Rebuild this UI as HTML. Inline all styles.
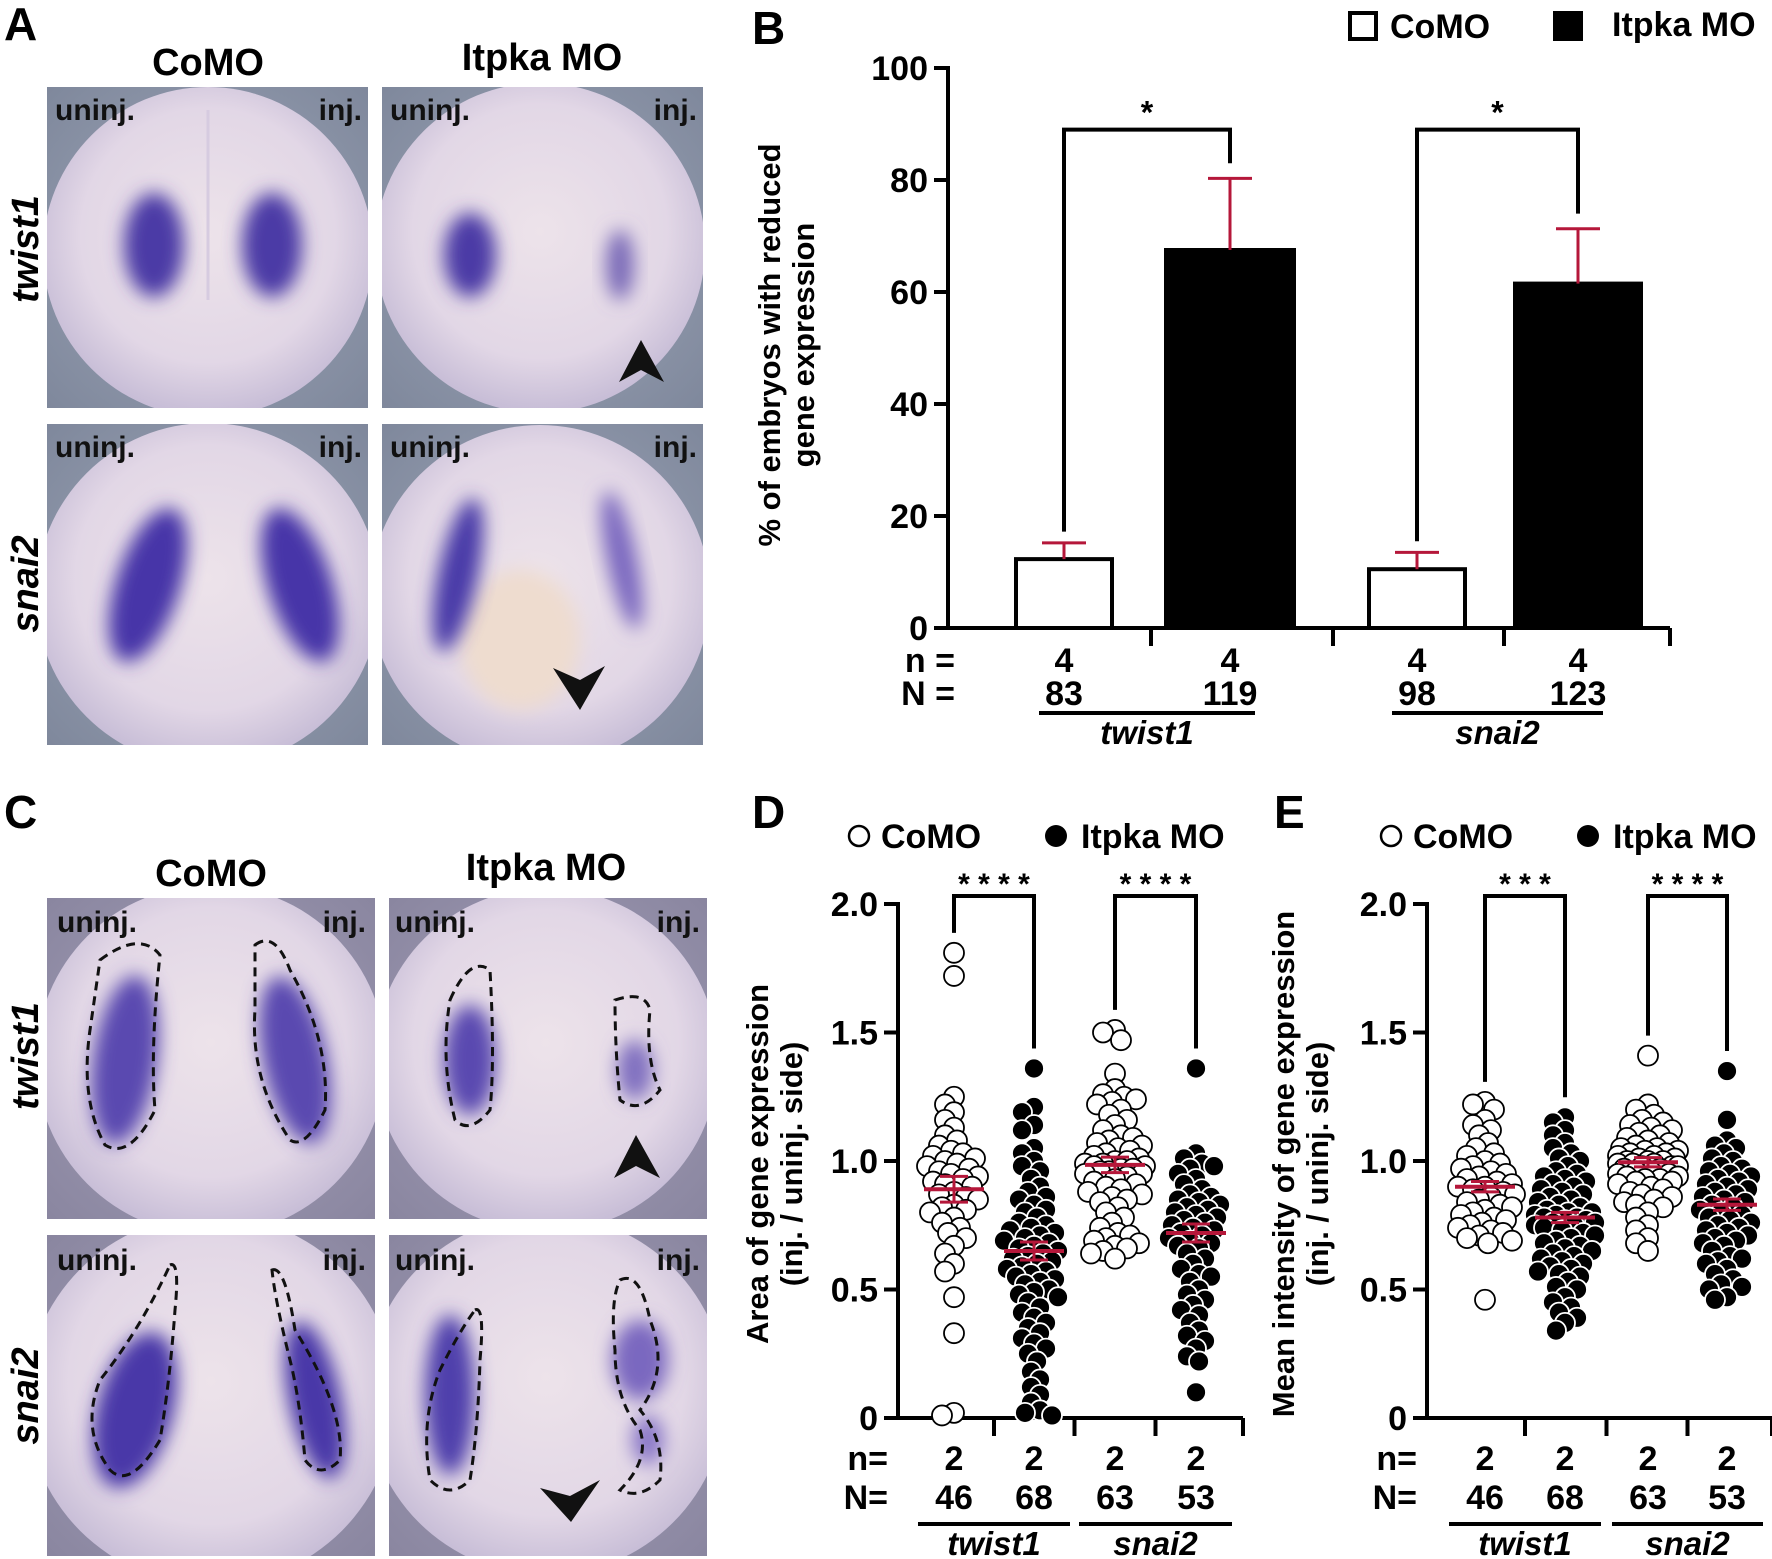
<!DOCTYPE html>
<html><head><meta charset="utf-8"><style>
html,body{margin:0;padding:0;background:#fff}
svg{display:block;font-family:"Liberation Sans",Arial,sans-serif;font-weight:bold}
</style></head><body>
<svg id="fig" width="1772" height="1559" viewBox="0 0 1772 1559" xmlns="http://www.w3.org/2000/svg">
<defs>
<filter id="blur" x="-50%" y="-50%" width="200%" height="200%"><feGaussianBlur stdDeviation="9"/></filter>
<radialGradient id="emb" cx="50%" cy="45%" r="55%"><stop offset="0" stop-color="#ede3ea"/><stop offset="0.7" stop-color="#e2d7e6"/><stop offset="1" stop-color="#c6bcd6"/></radialGradient>
<radialGradient id="bg" cx="50%" cy="50%" r="70%"><stop offset="0" stop-color="#9ea6b8"/><stop offset="1" stop-color="#7f889c"/></radialGradient>
<radialGradient id="bg2" cx="50%" cy="50%" r="70%"><stop offset="0" stop-color="#a49fb8"/><stop offset="1" stop-color="#8a86a0"/></radialGradient>
<clipPath id="cA1"><rect x="47" y="87" width="321" height="321"/></clipPath>
<clipPath id="cA2"><rect x="382" y="87" width="321" height="321"/></clipPath>
<clipPath id="cA3"><rect x="47" y="424" width="321" height="321"/></clipPath>
<clipPath id="cA4"><rect x="382" y="424" width="321" height="321"/></clipPath>
<clipPath id="cC1"><rect x="47" y="898" width="328" height="321"/></clipPath>
<clipPath id="cC2"><rect x="389" y="898" width="318" height="321"/></clipPath>
<clipPath id="cC3"><rect x="47" y="1235" width="328" height="321"/></clipPath>
<clipPath id="cC4"><rect x="389" y="1235" width="318" height="321"/></clipPath>
</defs>

<text x="4" y="40" font-size="46">A</text>
<text x="752" y="44" font-size="46">B</text>
<text x="4" y="828" font-size="46">C</text>
<text x="752" y="828" font-size="46">D</text>
<text x="1274" y="828" font-size="46">E</text>

<g>
<text x="208" y="75" font-size="38" text-anchor="middle">CoMO</text>
<text x="542" y="70" font-size="38" text-anchor="middle">Itpka MO</text>
<text transform="translate(38,249) rotate(-90)" font-size="38" font-style="italic" text-anchor="middle">twist1</text>
<text transform="translate(38,584) rotate(-90)" font-size="38" font-style="italic" text-anchor="middle">snai2</text>

<g clip-path="url(#cA1)">
<rect x="47" y="87" width="321" height="321" fill="url(#bg)"/>
<circle cx="208" cy="252" r="165" fill="url(#emb)"/>
<ellipse cx="154" cy="245" rx="30" ry="52" fill="#4b3aa6" filter="url(#blur)"/>
<ellipse cx="272" cy="245" rx="30" ry="52" fill="#4b3aa6" filter="url(#blur)"/>
<line x1="208" y1="110" x2="208" y2="300" stroke="#d6cbe0" stroke-width="3"/>
</g>
<g clip-path="url(#cA2)">
<rect x="382" y="87" width="321" height="321" fill="url(#bg)"/>
<circle cx="540" cy="248" r="165" fill="url(#emb)"/>
<ellipse cx="470" cy="255" rx="26" ry="42" fill="#4b3aa6" filter="url(#blur)"/>
<ellipse cx="620" cy="265" rx="14" ry="35" fill="#7a6ab8" filter="url(#blur)"/>
</g>
<g clip-path="url(#cA3)">
<rect x="47" y="424" width="321" height="321" fill="url(#bg)"/>
<circle cx="208" cy="595" r="172" fill="url(#emb)"/>
<ellipse cx="148" cy="585" rx="32" ry="80" transform="rotate(18 148 585)" fill="#4636a8" filter="url(#blur)"/>
<ellipse cx="300" cy="585" rx="32" ry="80" transform="rotate(-18 300 585)" fill="#4636a8" filter="url(#blur)"/>
</g>
<g clip-path="url(#cA4)">
<rect x="382" y="424" width="321" height="321" fill="url(#bg)"/>
<circle cx="540" cy="595" r="170" fill="url(#emb)"/>
<ellipse cx="520" cy="640" rx="60" ry="70" fill="#eedccf" filter="url(#blur)"/>
<ellipse cx="458" cy="575" rx="20" ry="78" transform="rotate(12 458 575)" fill="#4a3aa8" filter="url(#blur)"/>
<ellipse cx="622" cy="560" rx="15" ry="70" transform="rotate(-12 622 560)" fill="#7a68c0" filter="url(#blur)"/>
</g>
<g font-size="30" fill="#111">
<text x="55" y="120">uninj.</text><text x="362" y="120" text-anchor="end">inj.</text>
<text x="390" y="120">uninj.</text><text x="697" y="120" text-anchor="end">inj.</text>
<text x="55" y="457">uninj.</text><text x="362" y="457" text-anchor="end">inj.</text>
<text x="390" y="457">uninj.</text><text x="697" y="457" text-anchor="end">inj.</text>
</g>
<polygon points="641,340 619,382 641,370 664,382" fill="#111"/>
<polygon points="580,710 553,668 580,680 605,666" fill="#111"/>
</g>

<g>
<text x="211" y="886" font-size="38" text-anchor="middle">CoMO</text>
<text x="546" y="880" font-size="38" text-anchor="middle">Itpka MO</text>
<text transform="translate(38,1056) rotate(-90)" font-size="38" font-style="italic" text-anchor="middle">twist1</text>
<text transform="translate(38,1396) rotate(-90)" font-size="38" font-style="italic" text-anchor="middle">snai2</text>

<g clip-path="url(#cC1)">
<rect x="47" y="898" width="328" height="321" fill="url(#bg2)"/>
<circle cx="211" cy="1060" r="175" fill="url(#emb)"/>
<ellipse cx="125" cy="1060" rx="32" ry="85" transform="rotate(8 125 1060)" fill="#5a48b0" filter="url(#blur)"/>
<ellipse cx="295" cy="1060" rx="32" ry="85" transform="rotate(-12 295 1060)" fill="#5a48b0" filter="url(#blur)"/>
<path d="M100,960 Q140,930 160,955 Q150,1050 155,1110 Q130,1160 105,1145 Q80,1100 90,1030 Z" fill="none" stroke="#111" stroke-width="3" stroke-dasharray="9,6"/>
<path d="M255,945 Q275,930 290,970 Q330,1040 325,1110 Q305,1150 290,1140 Q250,1080 255,1010 Z" fill="none" stroke="#111" stroke-width="3" stroke-dasharray="9,6"/>
</g>
<g clip-path="url(#cC2)">
<rect x="389" y="898" width="318" height="321" fill="url(#bg2)"/>
<circle cx="546" cy="1060" r="172" fill="url(#emb)"/>
<ellipse cx="470" cy="1060" rx="26" ry="55" fill="#5a48b0" filter="url(#blur)"/>
<ellipse cx="635" cy="1070" rx="18" ry="30" fill="#8070c0" filter="url(#blur)"/>
<path d="M450,1000 Q470,955 490,970 Q495,1060 490,1110 Q470,1135 455,1120 Q440,1060 450,1000 Z" fill="none" stroke="#111" stroke-width="3" stroke-dasharray="9,6"/>
<path d="M615,1000 Q645,990 650,1010 Q645,1060 660,1090 Q640,1115 620,1100 Q615,1050 615,1000 Z" fill="none" stroke="#111" stroke-width="3" stroke-dasharray="9,6"/>
</g>
<g clip-path="url(#cC3)">
<rect x="47" y="1235" width="328" height="321" fill="url(#bg2)"/>
<circle cx="211" cy="1400" r="185" fill="url(#emb)"/>
<ellipse cx="135" cy="1410" rx="38" ry="80" transform="rotate(15 135 1410)" fill="#4838a8" filter="url(#blur)"/>
<ellipse cx="315" cy="1400" rx="26" ry="80" transform="rotate(-12 315 1400)" fill="#4838a8" filter="url(#blur)"/>
<path d="M170,1265 Q180,1260 175,1310 Q170,1380 160,1440 Q130,1490 110,1470 Q80,1430 100,1380 Q140,1330 170,1265 Z" fill="none" stroke="#111" stroke-width="3" stroke-dasharray="9,6"/>
<path d="M272,1270 Q285,1265 295,1330 Q345,1410 340,1460 Q320,1480 305,1460 Q300,1400 290,1360 Q275,1300 272,1270 Z" fill="none" stroke="#111" stroke-width="3" stroke-dasharray="9,6"/>
</g>
<g clip-path="url(#cC4)">
<rect x="389" y="1235" width="318" height="321" fill="url(#bg2)"/>
<circle cx="546" cy="1395" r="180" fill="url(#emb)"/>
<ellipse cx="450" cy="1395" rx="25" ry="80" fill="#5040ac" filter="url(#blur)"/>
<ellipse cx="640" cy="1360" rx="28" ry="40" fill="#7a68c0" filter="url(#blur)"/>
<ellipse cx="648" cy="1440" rx="16" ry="25" fill="#8a78c8" filter="url(#blur)"/>
<path d="M475,1310 Q485,1305 480,1360 Q478,1430 470,1480 Q450,1500 430,1480 Q420,1420 440,1370 Q460,1330 475,1310 Z" fill="none" stroke="#111" stroke-width="3" stroke-dasharray="9,6"/>
<path d="M620,1280 Q640,1270 650,1320 Q670,1370 640,1410 Q665,1440 660,1480 Q640,1500 620,1490 Q650,1460 640,1430 Q615,1400 615,1350 Q610,1300 620,1280 Z" fill="none" stroke="#111" stroke-width="3" stroke-dasharray="9,6"/>
</g>
<g font-size="30" fill="#111">
<text x="57" y="932">uninj.</text><text x="366" y="932" text-anchor="end">inj.</text>
<text x="395" y="932">uninj.</text><text x="700" y="932" text-anchor="end">inj.</text>
<text x="57" y="1270">uninj.</text><text x="366" y="1270" text-anchor="end">inj.</text>
<text x="395" y="1270">uninj.</text><text x="700" y="1270" text-anchor="end">inj.</text>
</g>
<polygon points="636,1135 614,1178 636,1166 660,1178" fill="#111"/>
<polygon points="571,1522 540,1488 570,1496 600,1480" fill="#111"/>
</g>

<g id="chartB"></g>
<g id="chartD"></g>
<g id="chartE"></g>
</svg>

<script>
// ---------- Panel B data ----------
const bCategories = ["twist1 CoMO", "twist1 Itpka MO", "snai2 CoMO", "snai2 Itpka MO"];
const bValues = [12.3, 67.5, 10.5, 61.5];
const bErrors = [2.9, 12.8, 3.0, 9.8];
const bN = ["4", "4", "4", "4"];
const bNN = ["83", "119", "98", "123"];
const bTicks = [0, 20, 40, 60, 80, 100];

// ---------- Panel D data ----------
const dCoTwist = [1.81,1.72,1.25,1.22,1.19,1.16,1.13,1.1,1.08,1.06,1.04,1.03,1.02,1.01,1.0,0.99,0.98,0.97,0.96,0.95,0.94,0.93,0.92,0.91,0.9,0.88,0.87,0.86,0.85,0.83,0.81,0.8,0.78,0.76,0.74,0.72,0.7,0.67,0.64,0.6,0.57,0.47,0.33,0.02,0.01,0.82];
const dItTwist = [1.36,1.21,1.19,1.14,1.12,1.05,1.03,1.0,0.98,0.96,0.93,0.9,0.88,0.86,0.85,0.83,0.81,0.8,0.78,0.76,0.75,0.74,0.73,0.72,0.71,0.7,0.69,0.68,0.67,0.66,0.65,0.64,0.63,0.62,0.61,0.6,0.59,0.58,0.57,0.56,0.55,0.54,0.53,0.52,0.5,0.49,0.48,0.47,0.45,0.43,0.41,0.39,0.37,0.35,0.33,0.31,0.29,0.27,0.25,0.22,0.18,0.15,0.12,0.09,0.06,0.03,0.02,0.01];
const dCoSnai = [1.51,1.5,1.47,1.34,1.28,1.26,1.25,1.24,1.23,1.22,1.2,1.18,1.16,1.14,1.12,1.1,1.09,1.08,1.07,1.06,1.05,1.04,1.03,1.02,1.01,1.0,1.0,0.99,0.99,0.98,0.98,0.97,0.97,0.96,0.96,0.95,0.95,0.94,0.93,0.92,0.91,0.9,0.89,0.88,0.87,0.86,0.85,0.84,0.82,0.8,0.78,0.76,0.74,0.72,0.71,0.7,0.69,0.68,0.67,0.66,0.65,0.64,0.62];
const dItSnai = [1.36,1.03,1.01,0.99,0.98,0.97,0.95,0.93,0.91,0.89,0.87,0.86,0.85,0.84,0.83,0.82,0.81,0.8,0.79,0.78,0.77,0.76,0.75,0.74,0.73,0.72,0.71,0.7,0.69,0.68,0.67,0.66,0.64,0.62,0.6,0.58,0.56,0.55,0.53,0.5,0.48,0.46,0.44,0.42,0.4,0.37,0.34,0.32,0.3,0.27,0.24,0.22,0.1];
const dMeans = [0.89, 0.65, 0.985, 0.72];
const dSems = [0.05, 0.035, 0.03, 0.035];
const dStars = ["****", "****"];

// ---------- Panel E data ----------
const eCoTwist = [1.23,1.22,1.2,1.16,1.14,1.12,1.1,1.07,1.05,1.03,1.02,1.0,0.99,0.98,0.97,0.96,0.95,0.94,0.93,0.92,0.91,0.9,0.9,0.89,0.88,0.87,0.86,0.85,0.84,0.83,0.82,0.81,0.8,0.79,0.78,0.77,0.76,0.75,0.74,0.73,0.72,0.71,0.7,0.69,0.68,0.46];
const eItTwist = [1.17,1.15,1.12,1.1,1.07,1.05,1.03,1.01,1.0,0.98,0.96,0.95,0.94,0.93,0.92,0.91,0.9,0.89,0.88,0.87,0.86,0.85,0.84,0.83,0.82,0.81,0.8,0.8,0.79,0.79,0.78,0.78,0.77,0.77,0.76,0.76,0.75,0.75,0.74,0.73,0.72,0.71,0.7,0.69,0.68,0.67,0.66,0.65,0.64,0.63,0.62,0.61,0.6,0.59,0.58,0.57,0.56,0.55,0.53,0.51,0.5,0.47,0.45,0.43,0.41,0.39,0.37,0.34];
const eCoSnai = [1.41,1.22,1.2,1.18,1.16,1.15,1.14,1.13,1.12,1.11,1.1,1.09,1.08,1.07,1.06,1.05,1.05,1.04,1.04,1.03,1.03,1.02,1.02,1.01,1.01,1.0,1.0,1.0,0.99,0.99,0.99,0.98,0.98,0.98,0.97,0.97,0.96,0.96,0.95,0.95,0.94,0.94,0.93,0.93,0.92,0.92,0.91,0.9,0.89,0.88,0.87,0.86,0.85,0.84,0.83,0.82,0.8,0.78,0.75,0.73,0.7,0.68,0.65];
const eItSnai = [1.35,1.16,1.08,1.06,1.05,1.03,1.01,1.0,0.98,0.97,0.96,0.95,0.94,0.93,0.92,0.91,0.9,0.89,0.88,0.87,0.86,0.85,0.84,0.83,0.82,0.81,0.8,0.79,0.78,0.77,0.76,0.75,0.74,0.73,0.72,0.71,0.7,0.69,0.68,0.67,0.65,0.63,0.62,0.61,0.6,0.58,0.56,0.54,0.52,0.51,0.5,0.47,0.46];
const eMeans = [0.90, 0.78, 0.995, 0.83];
const eSems = [0.02, 0.02, 0.018, 0.022];
const eStars = ["***", "****"];

const sN = ["2", "2", "2", "2"];
const sNN = ["46", "68", "63", "53"];
const sTicks = [0, 0.5, 1.0, 1.5, 2.0];
const sTickLabels = ["0", "0.5", "1.0", "1.5", "2.0"];
const genes = ["twist1", "snai2"];

const NS = "http://www.w3.org/2000/svg";
const RED = "#b5173a";
function mk(parent, tag, attrs, txt) {
  const e = document.createElementNS(NS, tag);
  for (const k in attrs) e.setAttribute(k, attrs[k]);
  if (txt !== undefined) e.textContent = txt;
  parent.appendChild(e);
  return e;
}
function line(p, x1, y1, x2, y2, stroke, w, name) {
  const e = mk(p, "line", {x1, y1, x2, y2, stroke, "stroke-width": w});
  
  
  return e;
}
function text(p, x, y, s, size, anchor, name, extra) {
  const e = mk(p, "text", Object.assign({x, y, "font-size": size, "text-anchor": anchor || "start"}, extra || {}), s);
  
  
  return e;
}

// ================= Panel B =================
(function () {
  const g = document.getElementById("chartB");
  const x0 = 948, xEnd = 1670, y0 = 628, yTop = 68;
  const yB = v => y0 - (v / 100) * (y0 - yTop);
  const barCenters = [1064, 1230, 1417, 1578];
  const barW = [96, 128, 96, 126];
  line(g, x0, yTop - 2, x0, y0 + 2, "#000", 4, "b-y-axis");
  line(g, x0 - 2, y0, xEnd, y0, "#000", 4, "b-x-axis");
  bTicks.forEach(t => {
    line(g, x0 - 14, yB(t), x0, yB(t), "#000", 4, "b-y-tick");
    text(g, x0 - 20, yB(t) + 12, String(t), 34, "end", "b-y-tick-label");
  });
  [1151, 1333, 1504, 1670].forEach(x => line(g, x, y0, x, y0 + 18, "#000", 4, "b-x-tick"));
  text(g, 0, 0, "% of embryos with reduced", 31, "middle", "b-y-axis-title", {transform: "translate(780,345) rotate(-90)"});
  text(g, 0, 0, "gene expression", 31, "middle", "b-y-axis-title-line2", {transform: "translate(814,345) rotate(-90)"});
  bValues.forEach((v, i) => {
    const cx = barCenters[i], w = barW[i];
    const filled = i % 2 === 1;
    const r = mk(g, "rect", {x: cx - w / 2, y: yB(v), width: w, height: y0 - yB(v), fill: filled ? "#000" : "#fff", stroke: "#000", "stroke-width": 4});
    
    
    const ye = yB(v + bErrors[i]);
    line(g, cx, yB(v), cx, ye, RED, 3, "b-error-bar");
    line(g, cx - 22, ye, cx + 22, ye, RED, 3, "b-error-cap");
    text(g, cx, 672, bN[i], 34, "middle", "b-n-label");
    text(g, cx, 705, bNN[i], 34, "middle", "b-N-label");
  });
  text(g, 955, 672, "n =", 34, "end", "b-n-row-label");
  text(g, 955, 705, "N =", 34, "end", "b-N-row-label");
  [[0, 1, 89, 83], [2, 3, 89, 74]].forEach(([a, b, top, rightEnd], k) => {
    const xa = barCenters[a], xb = barCenters[b];
    const leftEnd = (bValues[a] + bErrors[a]) + 2;
    const p = mk(g, "polyline", {points: `${xa},${yB(leftEnd)} ${xa},${yB(top)} ${xb},${yB(top)} ${xb},${yB(rightEnd)}`, fill: "none", stroke: "#000", "stroke-width": 4});
    
    
    text(g, (xa + xb) / 2, yB(top) - 6, "*", 32, "middle", "b-significance-star");
    line(g, xa - 25, 713, xb + 25, 713, "#000", 4, "b-gene-underline");
    text(g, (xa + xb) / 2, 744, genes[k], 33, "middle", "b-gene-label", {"font-style": "italic"});
  });
  const l1 = mk(g, "rect", {x: 1350, y: 13, width: 26, height: 26, fill: "#fff", stroke: "#000", "stroke-width": 4});
   
  text(g, 1390, 38, "CoMO", 34, "start", "legend-como-label");
  const l2 = mk(g, "rect", {x: 1553, y: 11, width: 30, height: 30, fill: "#000"});
   
  text(g, 1612, 36, "Itpka MO", 34, "start", "legend-itpka-label");
})();

// ================= Scatter panels =================
function scatter(gid, x0, cats, groups, means, sems, stars, title1, title2, tx, tc, legX) {
  const g = document.getElementById(gid);
  const y0 = 1418, yTop = 904, xEnd = x0 + 345;
  const yS = v => y0 - (v / 2) * (y0 - yTop);
  line(g, x0, yTop - 2, x0, y0 + 2, "#000", 4, "y-axis");
  line(g, x0 - 2, y0, xEnd, y0, "#000", 4, "x-axis");
  sTicks.forEach((t, i) => {
    line(g, x0 - 14, yS(t), x0, yS(t), "#000", 4, "y-tick");
    text(g, x0 - 20, yS(t) + 12, sTickLabels[i], 34, "end", "y-tick-label");
  });
  [(cats[0] + cats[1]) / 2, (cats[1] + cats[2]) / 2, (cats[2] + cats[3]) / 2, xEnd].forEach(x => line(g, x, y0, x, y0 + 18, "#000", 4, "x-tick"));
  text(g, 0, 0, title1, 31, "middle", "y-axis-title", {transform: `translate(${tx},${tc}) rotate(-90)`});
  text(g, 0, 0, title2, 31, "middle", "y-axis-title-line2", {transform: `translate(${tx + 34},${tc}) rotate(-90)`});
  const R = 10, MAXOFF = 32, MIND = 11;
  groups.forEach((vals, gi) => {
    const cx = cats[gi];
    const placed = [];
    const sorted = vals.slice().sort((a, b) => b - a);
    sorted.forEach(v => {
      const y = yS(v);
      let best = 0, bestScore = -1;
      for (let k = 0; ; k++) {
        const off = (k % 2 === 0 ? 1 : -1) * Math.ceil(k / 2) * 3;
        if (Math.abs(off) > MAXOFF) break;
        let md = 1e9;
        placed.forEach(p => { md = Math.min(md, Math.hypot(p[0] - (cx + off), p[1] - y)); });
        if (md >= MIND) { best = off; bestScore = 1e9; break; }
        if (md > bestScore) { bestScore = md; best = off; }
      }
      placed.push([cx + best, y]);
      const c = mk(g, "circle", {cx: cx + best, cy: y, r: R, fill: gi % 2 === 0 ? "#fff" : "#000", stroke: gi % 2 === 0 ? "#000" : "#fff", "stroke-width": 1.8});
      
      
    });
    const m = means[gi], s = sems[gi];
    line(g, cx - 30, yS(m), cx + 30, yS(m), RED, 4, "mean-line");
    line(g, cx, yS(m + s), cx, yS(m - s), RED, 3, "sem-bar");
    line(g, cx - 14, yS(m + s), cx + 14, yS(m + s), RED, 3, "sem-cap");
    line(g, cx - 14, yS(m - s), cx + 14, yS(m - s), RED, 3, "sem-cap");
    text(g, cx, 1470, sN[gi], 34, "middle", "n-label");
    text(g, cx, 1509, sNN[gi], 34, "middle", "N-label");
  });
  text(g, x0 - 10, 1470, "n=", 34, "end", "n-row-label");
  text(g, x0 - 10, 1509, "N=", 34, "end", "N-row-label");
  [[0, 1], [2, 3]].forEach(([a, b], k) => {
    const xa = cats[a], xb = cats[b];
    const top = 896;
    const ya = yS(Math.max(...groups[a])) - 20, yb = yS(Math.max(...groups[b])) - 20;
    const p = mk(g, "polyline", {points: `${xa},${ya} ${xa},${top} ${xb},${top} ${xb},${yb}`, fill: "none", stroke: "#000", "stroke-width": 4});
    
    
    text(g, (xa + xb) / 2, top - 2, stars[k].split("").join(" "), 30, "middle", "significance-stars");
    line(g, xa - 36, 1524, xb + 36, 1524, "#000", 4, "gene-underline");
    text(g, (xa + xb) / 2, 1555, genes[k], 33, "middle", "gene-label", {"font-style": "italic"});
  });
  const c1 = mk(g, "circle", {cx: legX, cy: 836, r: 10, fill: "#fff", stroke: "#000", "stroke-width": 2.5});
   
  text(g, legX + 22, 848, "CoMO", 34, "start", "legend-como-label");
  const c2 = mk(g, "circle", {cx: legX + 197, cy: 836, r: 11, fill: "#000"});
   
  text(g, legX + 222, 848, "Itpka MO", 34, "start", "legend-itpka-label");
}
scatter("chartD", 898, [954, 1034, 1115, 1196], [dCoTwist, dItTwist, dCoSnai, dItSnai], dMeans, dSems, dStars,
  "Area of gene expression", "(inj. / uninj. side)", 768, 1164, 859);
scatter("chartE", 1427, [1485, 1565, 1648, 1727], [eCoTwist, eItTwist, eCoSnai, eItSnai], eMeans, eSems, eStars,
  "Mean intensity of gene expression", "(inj. / uninj. side)", 1294, 1164, 1391);
</script>
</body></html>
